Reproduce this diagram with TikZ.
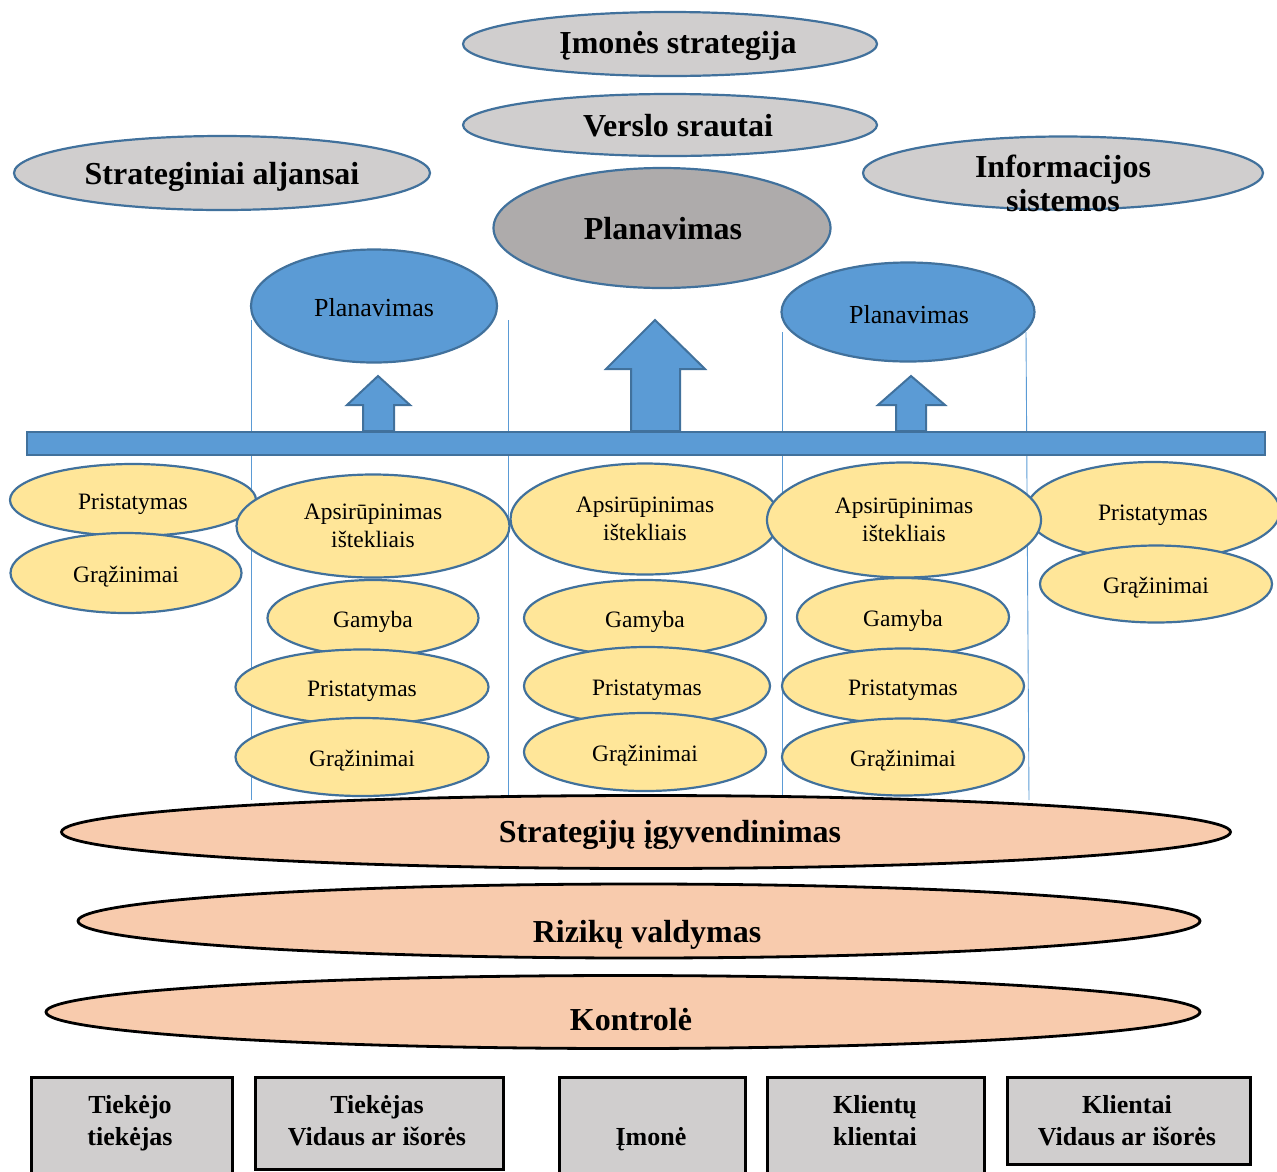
\documentclass[tikz,border=0pt]{standalone}
\usepackage{fontspec}
\setmainfont{Liberation Serif}
\usetikzlibrary{shapes.geometric}
\definecolor{greyfill}{HTML}{D0CECE}
\definecolor{darkgrey}{HTML}{AEABAB}
\definecolor{bluefill}{HTML}{5B9BD5}
\definecolor{blueedge}{HTML}{41719C}
\definecolor{yellowfill}{HTML}{FFE699}
\definecolor{salmon}{HTML}{F8CBAD}
\begin{document}
\begin{tikzpicture}[x=1pt,y=-1pt,
  oval/.style args={#1/#2}{ellipse, inner sep=0pt, outer sep=0pt,
    minimum width=#1, minimum height=#2},
  greyoval/.style={oval=#1, fill=greyfill, draw=blueedge, line width=2.2pt},
  planoval/.style={oval=#1, fill=darkgrey, draw=blueedge, line width=2.2pt},
  blueoval/.style={oval=#1, fill=bluefill, draw=blueedge, line width=2.2pt},
  yoval/.style={oval=#1, fill=yellowfill, draw=blueedge, line width=2.2pt,
    align=center, font=\fontsize{23.5}{28}\selectfont,
    execute at begin node={\rule{0pt}{24pt}}},
  yoval2/.style={yoval=#1, execute at begin node={\rule{0pt}{29pt}}},
  soval/.style={oval=#1, fill=salmon, draw=black, line width=2.8pt},
  bigtext/.style={inner sep=0pt, anchor=base, align=center,
    font=\fontsize{32}{34}\selectfont\bfseries},
  bluetext/.style={inner sep=0pt, anchor=base, font=\fontsize{26}{30}\selectfont},
  boxtext/.style={inner sep=0pt, anchor=base, align=center,
    font=\fontsize{26}{32}\selectfont\bfseries},
  unitbox/.style args={#1/#2}{rectangle, anchor=north west, inner sep=0pt,
    minimum width=#1, minimum height=#2, fill=greyfill, draw=black, line width=2.6pt},
  guide/.style={draw=bluefill, line width=0.9pt},
  blockarrow/.style={fill=bluefill, draw=blueedge, line width=2pt, line join=miter}
]
\useasboundingbox (0,0) rectangle (1277,1171);
\clip (0,0) rectangle (1277,1171);

% column guide lines
\coordinate (g1t) at (251,320); \coordinate (g1b) at (251,800);
\coordinate (g2t) at (508,320); \coordinate (g2b) at (508,796);
\coordinate (g3t) at (782,332); \coordinate (g3b) at (782,796);
\coordinate (g4t) at (1026,332); \coordinate (g4b) at (1029,800);
\draw[guide] (g1t) -- (g1b);
\draw[guide] (g2t) -- (g2b);
\draw[guide] (g3t) -- (g3b);
\draw[guide] (g4t) -- (g4b);

% top level
\node[greyoval=414/64] (imst) at (670,44) {};
\node[bigtext] (imst-t) at (678,53) {Įmonės strategija};
\node[greyoval=414/62] (vers) at (670,125) {};
\node[bigtext] (vers-t) at (678,136) {Verslo srautai};
\node[greyoval=416/74] (alj) at (222,173) {};
\node[bigtext] (alj-t) at (222,184) {Strateginiai aljansai};
\node[greyoval=400/73] (info) at (1063,173) {};
\node[bigtext] (info-t) at (1063,211) {Informacijos\\sistemos};
\node[planoval=337/120] (plan) at (662,228) {};
\node[bigtext] (plan-t) at (663,239) {Planavimas};

% blue planning ellipses
\node[blueoval=246/113] (planL) at (374,306) {};
\node[bluetext] (planL-t) at (374,316) {Planavimas};
\node[blueoval=253/99] (planR) at (908,312) {};
\node[bluetext] (planR-t) at (909,323) {Planavimas};

% bar and upward block arrows
\node[rectangle, inner sep=0pt, anchor=north west, minimum width=1238, minimum height=23,
  fill=bluefill, draw=blueedge, line width=2.4pt] (bar) at (26,431) {};
\draw[blockarrow] (363,431) -- (363,405) -- (347,405) -- (378,376) -- (410,405)
  -- (394,405) -- (394,431) -- cycle;
\draw[blockarrow] (631,431) -- (631,369) -- (606,369) -- (655,320) -- (705,369)
  -- (680,369) -- (680,431) -- cycle;
\draw[blockarrow] (896,431) -- (896,405) -- (878,405) -- (911,376) -- (945,405)
  -- (926,405) -- (926,431) -- cycle;

% column 1
\node[yoval=246/72] (c1p) at (133,500) {Pristatymas};
\node[yoval=231/80] (c1g) at (126,573) {Grąžinimai};
% column 5
\node[yoval=254/98] (c5p) at (1153,511) {Pristatymas};
\node[yoval=232/77] (c5g) at (1156,584) {Grąžinimai};
% column 2
\node[yoval2=273/103] (c2a) at (373,526) {Apsirūpinimas\\ištekliais};
\node[yoval=211/76] (c2m) at (373,618) {Gamyba};
\node[yoval=253/75] (c2p) at (362,687) {Pristatymas};
\node[yoval=253/78] (c2g) at (362,757) {Grąžinimai};
% column 3
\node[yoval2=269/111] (c3a) at (645,519) {Apsirūpinimas\\ištekliais};
\node[yoval=242/76] (c3m) at (645,618) {Gamyba};
\node[yoval=246/78] (c3p) at (647,686) {Pristatymas};
\node[yoval=242/78] (c3g) at (645,752) {Grąžinimai};
% column 4
\node[yoval2=274/115] (c4a) at (904,520) {Apsirūpinimas\\ištekliais};
\node[yoval=212/78] (c4m) at (903,617) {Gamyba};
\node[yoval=242/75] (c4p) at (903,686) {Pristatymas};
\node[yoval=242/77] (c4g) at (903,757) {Grąžinimai};

% execution layers
\node[soval=1169/73] (impl) at (646,832) {};
\node[bigtext] (impl-t) at (670,842) {Strategijų įgyvendinimas};
\node[soval=1122/74] (risk) at (639,921) {};
\node[bigtext] (risk-t) at (647,942) {Rizikų valdymas};
\node[soval=1154/73] (ctrl) at (623,1012) {};
\node[bigtext] (ctrl-t) at (631,1030) {Kontrolė};

% supply chain parties
\node[unitbox=201/120] (b1) at (30,1076) {};
\node[boxtext] (b1-t) at (130,1145) {Tiekėjo\\tiekėjas};
\node[unitbox=248/92] (b2) at (254,1076) {};
\node[boxtext] (b2-t) at (377,1145) {Tiekėjas\\Vidaus ar išorės};
\node[unitbox=186/120] (b3) at (558,1076) {};
\node[boxtext] (b3-t) at (651,1145) {Įmonė};
\node[unitbox=217/120] (b4) at (766,1076) {};
\node[boxtext] (b4-t) at (875,1145) {Klientų\\klientai};
\node[unitbox=243/87] (b5) at (1006,1076) {};
\node[boxtext] (b5-t) at (1127,1145) {Klientai\\Vidaus ar išorės};
\end{tikzpicture}
\end{document}
